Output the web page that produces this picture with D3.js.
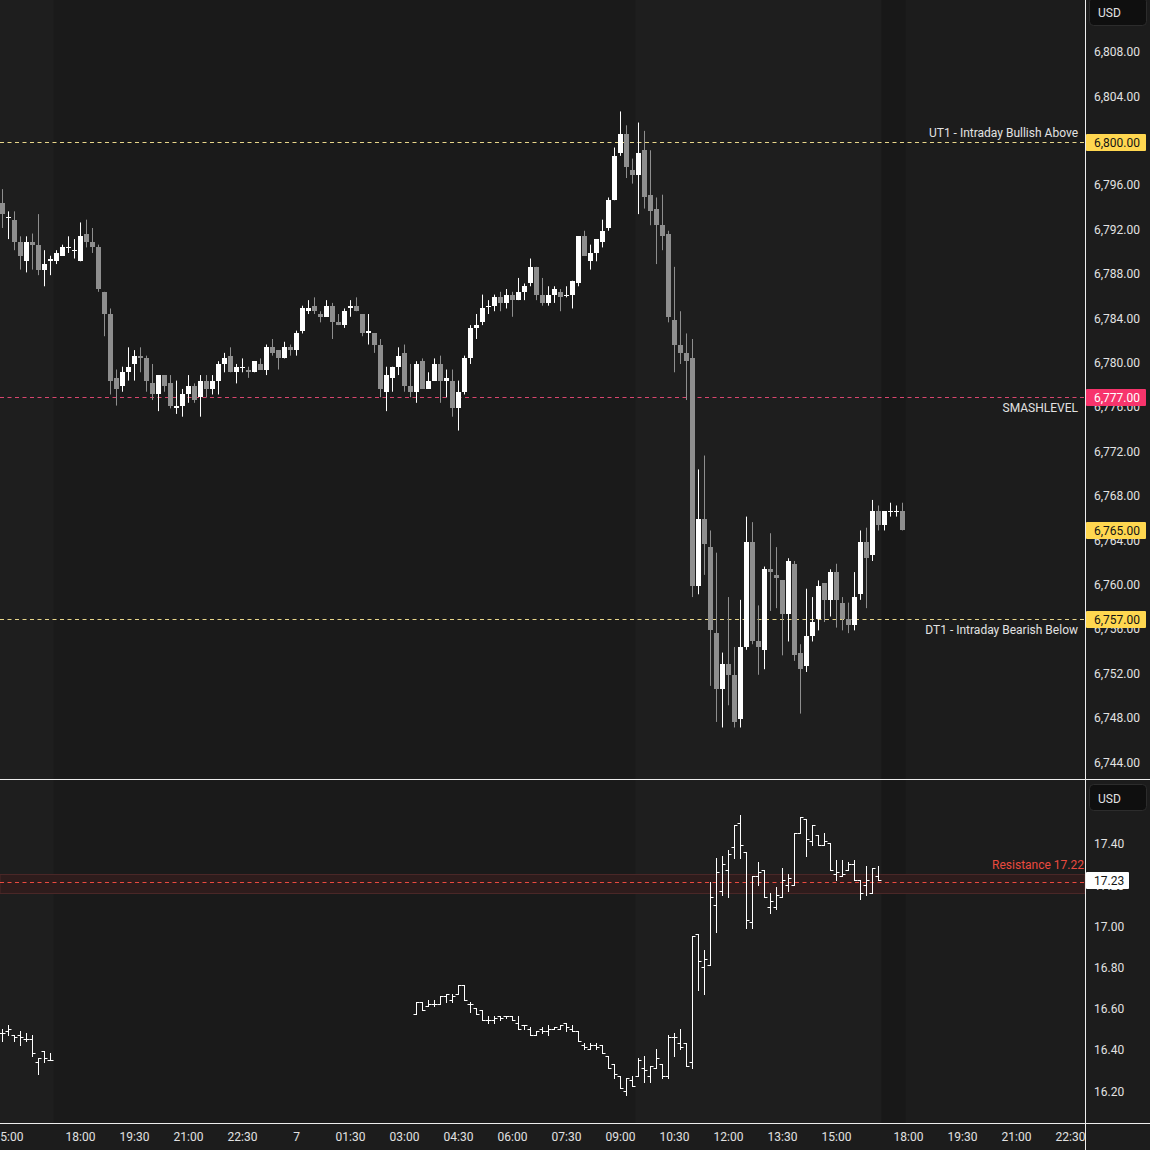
<!DOCTYPE html>
<html>
<head>
<meta charset="utf-8">
<script src="https://cdn.jsdelivr.net/npm/d3@7"></script>
<style>
    html, body { margin: 0; padding: 0; background: #1c1c1c; }
    svg { display: block; font-family: Roboto, "Noto Sans", sans-serif; }
</style>
</head>
<body>
<div id="chart"></div>
<script>
/*---------------------------Data---------------------------*/

// 10 minute bars, [open, high, low, close], first bar = "1 14:50"
const ES_START = "1 14:50";
const ES_BARS = [
    [6794.5, 6795.75, 6792.25, 6793.5], [6793.25, 6793.75, 6791.25, 6793.25], [6793, 6793.75, 6790.25, 6791],
    [6791, 6791.5, 6788.5, 6789.75], [6789.25, 6791.5, 6788.25, 6791], [6791, 6791.75, 6788.5, 6790.75],
    [6790.75, 6793.5, 6788, 6788.5], [6788.5, 6790.25, 6787, 6789], [6789.25, 6789.75, 6788, 6789.5],
    [6789.25, 6790.25, 6789, 6790], [6789.75, 6790.75, 6789.75, 6790.5], [6790.5, 6791.5, 6790, 6790.5],
    [6790.25, 6791.25, 6789.5, 6790.25], [6789.25, 6792.75, 6789.25, 6791.5], [6791.75, 6793, 6790.5, 6791],
    [6791, 6792.25, 6790, 6790.5], [6790.5, 6790.75, 6786.5, 6786.75], [6786.5, 6786.5, 6782.5, 6784.5],
    [6784.5, 6785, 6777.25, 6778.5], [6778.75, 6779.5, 6776.25, 6777.75], [6778, 6779.75, 6777.5, 6779.25],
    [6779.25, 6781.5, 6778.5, 6779.75], [6780, 6781.25, 6778.5, 6780.75], [6780.75, 6781.5, 6779.25, 6780.5],
    [6780.5, 6780.75, 6777.5, 6778.5], [6778.25, 6780, 6776.75, 6777.25], [6777.25, 6779, 6775.75, 6779],
    [6779, 6779, 6777.5, 6778], [6778.25, 6779, 6776, 6776.25], [6776, 6778.5, 6775.5, 6776.25],
    [6776.25, 6777.75, 6775.25, 6777.25], [6777.25, 6779, 6776.5, 6778], [6778, 6778.25, 6776.5, 6776.75],
    [6777, 6779, 6775.25, 6778.5], [6778.5, 6779, 6777, 6777.75], [6777.75, 6779, 6777.25, 6778.5],
    [6778.5, 6780.25, 6777.25, 6780], [6780, 6781, 6779.25, 6780.5], [6780.75, 6781.5, 6779.25, 6779.25],
    [6779.25, 6780, 6778.25, 6779.75], [6779.75, 6780.5, 6779.25, 6779.75], [6779.5, 6779.75, 6778.75, 6779.25],
    [6779.25, 6780.25, 6779.25, 6780.25], [6780, 6780.5, 6779.5, 6779.5], [6779.5, 6781.75, 6779, 6781.5],
    [6781.5, 6782.25, 6780.75, 6781], [6781.25, 6781.25, 6779.5, 6780.5], [6780.5, 6782, 6780.5, 6781.5],
    [6781.5, 6781.75, 6780.75, 6781.25], [6781.25, 6783, 6780.75, 6782.75], [6783, 6785.25, 6782.75, 6785],
    [6784.75, 6785.75, 6784.5, 6785], [6785.25, 6786, 6784.5, 6784.75], [6784.5, 6784.75, 6783.75, 6784.25],
    [6784.25, 6785.75, 6784.25, 6785.25], [6785.25, 6785.5, 6782.25, 6783.75], [6783.75, 6784.5, 6783.5, 6783.5],
    [6783.5, 6785, 6783.25, 6784.75], [6785, 6785.75, 6784.25, 6785.25], [6785.25, 6786, 6784.75, 6784.75],
    [6784.5, 6784.5, 6782.5, 6782.75], [6782.75, 6784.5, 6781.75, 6783], [6782.75, 6782.75, 6781, 6781.75],
    [6781.75, 6782.25, 6777, 6777.75], [6777.5, 6779.75, 6775.75, 6779], [6778.75, 6779.75, 6777.5, 6779.75],
    [6779.75, 6781.5, 6779, 6780.75], [6781, 6781.75, 6777.5, 6778], [6778, 6780, 6777, 6777.5],
    [6777.5, 6780.25, 6776.5, 6780], [6780.25, 6780.5, 6777.75, 6777.75], [6777.75, 6779.25, 6777.75, 6778.5],
    [6778.5, 6780.5, 6778.5, 6780], [6780, 6780.75, 6776.5, 6778.5], [6778.5, 6779.5, 6777, 6778.75],
    [6778.5, 6779.5, 6775.25, 6776], [6776, 6778.5, 6774, 6777.5], [6777.5, 6780.75, 6777.25, 6780.5],
    [6780.5, 6783.5, 6780, 6783.25], [6783.25, 6784.5, 6782.25, 6783.5], [6783.75, 6786.25, 6783.5, 6785],
    [6785.25, 6785.75, 6784.5, 6785.25], [6785.25, 6786.25, 6784.75, 6786], [6786, 6786.5, 6784.75, 6785.5],
    [6785.5, 6786.75, 6785, 6786.25], [6786.25, 6786.5, 6784.25, 6785.75], [6785.75, 6787.75, 6785.75, 6786.5],
    [6786.5, 6787.25, 6785.75, 6787], [6787.25, 6789.5, 6787, 6788.75], [6788.75, 6788.75, 6785.75, 6786.25],
    [6786.25, 6787.75, 6785.25, 6785.5], [6785.5, 6787, 6785.25, 6786.25], [6786.25, 6787, 6785.5, 6786.75],
    [6786.5, 6786.75, 6784.75, 6786], [6786.25, 6787, 6786, 6786.25], [6786.25, 6787.5, 6785, 6787.5],
    [6787.25, 6791.5, 6787, 6791.5], [6791.5, 6792, 6789.75, 6789.75], [6789.25, 6790.75, 6788.5, 6790],
    [6790, 6791.25, 6789.25, 6791.25], [6791, 6793, 6790.5, 6792], [6792.25, 6795, 6792, 6794.75],
    [6794.75, 6799.5, 6794.75, 6798.75], [6799, 6802.75, 6798.75, 6800.75], [6800.75, 6801.5, 6796.75, 6797.75],
    [6797.5, 6798.5, 6796.25, 6797], [6797, 6801.75, 6793.5, 6799], [6799.25, 6801, 6794, 6795],
    [6795.25, 6799.25, 6792.5, 6793.75], [6794, 6795, 6789, 6792.5], [6792.5, 6795.25, 6790.25, 6791.5],
    [6791.75, 6792, 6783.75, 6784.25], [6784, 6788.75, 6779.25, 6781.75], [6781.75, 6784.75, 6780, 6781],
    [6781, 6782.75, 6776.75, 6780.25], [6780.5, 6782.25, 6759, 6760], [6760, 6770.5, 6759.25, 6766],
    [6766, 6771.75, 6761, 6763.75], [6763.5, 6765, 6751, 6756], [6755.75, 6763, 6747.75, 6750.75],
    [6750.75, 6754, 6747.25, 6753], [6753, 6759, 6749.25, 6752], [6752, 6754.5, 6747.25, 6747.75],
    [6748, 6758.75, 6747.25, 6754.5], [6754.5, 6766.25, 6754.25, 6764], [6764, 6765.75, 6754.75, 6755],
    [6755, 6758.25, 6752, 6754.5], [6754.25, 6761.75, 6752.5, 6761.5], [6761.5, 6764.75, 6757.75, 6761.25],
    [6761, 6763.5, 6758, 6760.75], [6760.5, 6760.5, 6753.75, 6757.5], [6757.5, 6762.5, 6755, 6762.25],
    [6762, 6762.25, 6753.25, 6753.75], [6754, 6754.75, 6748.5, 6752.5], [6752.75, 6759.75, 6752.25, 6755.5],
    [6755.5, 6759, 6755, 6756.75], [6757, 6760.5, 6756, 6760], [6760.25, 6760.25, 6756.75, 6758.75],
    [6758.75, 6761.5, 6757.25, 6761.25], [6761.25, 6762, 6756.25, 6758.75], [6758.5, 6759, 6756, 6757],
    [6757, 6758.5, 6755.75, 6756.5], [6756.5, 6761.25, 6756, 6759], [6759.25, 6765, 6758.75, 6764],
    [6764, 6765.25, 6758, 6762.5], [6762.75, 6767.75, 6762.25, 6766.75], [6766.75, 6767.25, 6765, 6765.5],
    [6765.5, 6766.75, 6765, 6766.75], [6766.75, 6767.5, 6766.25, 6766.75], [6766.75, 6767.25, 6766.25, 6766.75],
    [6766.75, 6767.5, 6765, 6765]
];

// lower pane, [open, high, low, close]
const VIX_DAY1_START = "1 14:50";
const VIX_DAY1 = [
    [16.49, 16.51, 16.45, 16.49], [16.50, 16.53, 16.48, 16.51], [16.48, 16.48, 16.45, 16.47],
    [16.48, 16.50, 16.43, 16.47], [16.46, 16.49, 16.45, 16.46], [16.46, 16.48, 16.38, 16.39],
    [16.35, 16.37, 16.29, 16.37], [16.40, 16.40, 16.35, 16.37], [16.36, 16.39, 16.36, 16.36]
];
const VIX_DAY2_START = "2 03:20";
const VIX_DAY2 = [
    [16.58, 16.64, 16.58, 16.64], [16.64, 16.64, 16.60, 16.60], [16.62, 16.65, 16.62, 16.63],
    [16.63, 16.65, 16.62, 16.63], [16.63, 16.67, 16.63, 16.67], [16.67, 16.68, 16.64, 16.68],
    [16.65, 16.68, 16.64, 16.67], [16.68, 16.72, 16.68, 16.72], [16.72, 16.72, 16.65, 16.65],
    [16.63, 16.64, 16.59, 16.63], [16.61, 16.61, 16.58, 16.58], [16.60, 16.60, 16.55, 16.55],
    [16.55, 16.57, 16.54, 16.55], [16.55, 16.57, 16.54, 16.56], [16.57, 16.57, 16.55, 16.56],
    [16.57, 16.57, 16.56, 16.57], [16.57, 16.57, 16.55, 16.55], [16.54, 16.57, 16.51, 16.51],
    [16.53, 16.53, 16.51, 16.53], [16.51, 16.52, 16.48, 16.48], [16.48, 16.50, 16.48, 16.50],
    [16.51, 16.52, 16.49, 16.50], [16.50, 16.53, 16.48, 16.51], [16.51, 16.52, 16.51, 16.52],
    [16.51, 16.53, 16.51, 16.53], [16.54, 16.54, 16.50, 16.52], [16.51, 16.53, 16.50, 16.50],
    [16.50, 16.50, 16.45, 16.45], [16.43, 16.44, 16.41, 16.42], [16.41, 16.44, 16.41, 16.43],
    [16.43, 16.44, 16.41, 16.42], [16.43, 16.43, 16.39, 16.39], [16.38, 16.38, 16.32, 16.32],
    [16.34, 16.34, 16.27, 16.29], [16.28, 16.28, 16.22, 16.22], [16.21, 16.27, 16.19, 16.27],
    [16.26, 16.28, 16.23, 16.23], [16.28, 16.37, 16.28, 16.36], [16.32, 16.38, 16.25, 16.31],
    [16.28, 16.33, 16.25, 16.33], [16.32, 16.41, 16.32, 16.37], [16.34, 16.34, 16.27, 16.28],
    [16.28, 16.48, 16.27, 16.47], [16.47, 16.49, 16.38, 16.47], [16.44, 16.51, 16.41, 16.42],
    [16.44, 16.44, 16.33, 16.33], [16.35, 16.96, 16.32, 16.96], [16.97, 16.97, 16.70, 16.84],
    [16.81, 16.89, 16.68, 16.85], [16.82, 17.22, 16.82, 17.15], [17.11, 17.34, 16.98, 17.27],
    [17.18, 17.35, 17.16, 17.31], [17.28, 17.38, 17.15, 17.36], [17.39, 17.50, 17.34, 17.50],
    [17.51, 17.55, 17.34, 17.40], [17.37, 17.37, 17.00, 17.04], [17.03, 17.25, 17.00, 17.25],
    [17.25, 17.32, 17.21, 17.27], [17.28, 17.28, 17.15, 17.15], [17.10, 17.17, 17.07, 17.13],
    [17.10, 17.20, 17.09, 17.16], [17.15, 17.29, 17.15, 17.23], [17.21, 17.26, 17.18, 17.24],
    [17.21, 17.46, 17.21, 17.46], [17.46, 17.54, 17.46, 17.54], [17.53, 17.53, 17.35, 17.43],
    [17.42, 17.50, 17.40, 17.50], [17.45, 17.45, 17.40, 17.40], [17.40, 17.46, 17.40, 17.42],
    [17.41, 17.41, 17.28, 17.28], [17.26, 17.33, 17.23, 17.27], [17.25, 17.33, 17.25, 17.26],
    [17.28, 17.32, 17.28, 17.31], [17.31, 17.33, 17.23, 17.23], [17.23, 17.23, 17.14, 17.17],
    [17.21, 17.30, 17.16, 17.23], [17.17, 17.29, 17.17, 17.29], [17.25, 17.30, 17.23, 17.23]
];

const PRICE_TICKS = [6744, 6748, 6752, 6756, 6760, 6764, 6768, 6772, 6776, 6780, 6784, 6788, 6792, 6796, 6800, 6804, 6808];
const VIX_TICKS = [16.2, 16.4, 16.6, 16.8, 17.0, 17.2, 17.4];

const LEVEL_NAMES = ["UT1 - Intraday Bullish Above", "SMASHLEVEL", "DT1 - Intraday Bearish Below"];
const LEVEL_VALUES = [6800, 6777, 6757];
const RESISTANCE_NAME = "Resistance 17.22";
const RESISTANCE = 17.22;
const RESISTANCE_ZONE = [17.17, 17.26];

const TIME_TICKS = [
    ["1 15:00", "15:00"], ["1 18:00", "18:00"], ["1 19:30", "19:30"], ["1 21:00", "21:00"], ["1 22:30", "22:30"],
    ["2 00:00", "7"], ["2 01:30", "01:30"], ["2 03:00", "03:00"], ["2 04:30", "04:30"], ["2 06:00", "06:00"],
    ["2 07:30", "07:30"], ["2 09:00", "09:00"], ["2 10:30", "10:30"], ["2 12:00", "12:00"], ["2 13:30", "13:30"],
    ["2 15:00", "15:00"], ["2 18:00", "18:00"], ["2 19:30", "19:30"], ["2 21:00", "21:00"], ["2 22:30", "22:30"]
];

// sessions, first and last bar of each
const SESSIONS = [
    ["1 09:30", "1 16:10", "rth"],
    ["2 09:30", "2 16:10", "rth"],
    ["2 16:20", "2 16:50", "post"]
];

/*---------------------------Init---------------------------*/

const WIDTH = 1150;
const HEIGHT = 1150;
const PLOT_RIGHT = 1085;
const MAIN_BOTTOM = 779;
const SUB_TOP = 780;
const SUB_BOTTOM = 1123;
const COLOR = {
    bg: "#1c1c1c",
    overnight: "#1a1a1a",
    rth: "#1e1e1e",
    post: "#181818",
    up: "#ffffff",
    down: "#8e8e8e",
    text: "#e2e2e2",
    frame: "#ededed",
    yellowLine: "#e8d68a",
    yellowTag: "#ffd750",
    redLine: "#d8466e",
    redTag: "#f7346c",
    resist: "#ea4a3f",
    zone: "#2e1c1c",
    zoneEdge: "#4a2727"
};
const LEVEL_COLORS = [
    { line: COLOR.yellowLine, tag: COLOR.yellowTag, tagText: "#141414", dy: -10 },
    { line: COLOR.redLine, tag: COLOR.redTag, tagText: "#ffffff", dy: 10 },
    { line: COLOR.yellowLine, tag: COLOR.yellowTag, tagText: "#141414", dy: 10 }
];

// bar number counted from the first bar, the 17:00-18:00 breaks are skipped
const barIndex = (t) => {
    const [day, hm] = t.split(" ");
    const [h, m] = hm.split(":").map(Number);
    const abs = (+day - 1) * 1440 + h * 60 + m;
    let mins = abs;
    if (abs >= 1080) mins -= 60;
    if (abs >= 2520) mins -= 60;
    return (mins - 890) / 10;
};

const fmtPrice = d3.format(",.2f");
const fmtVix = d3.format(".2f");

const xScale = d3.scaleLinear().domain([0, 150]).range([2.5, 902.5]);
const yMain = d3.scaleLinear().domain([6742.61, 6812.79]).range([MAIN_BOTTOM, 0]);
const ySub = d3.scaleLinear().domain([16.0524, 17.7175]).range([SUB_BOTTOM, SUB_TOP]);

const svg = d3.select("#chart").append("svg")
    .attr("width", WIDTH)
    .attr("height", HEIGHT)
    .style("background-color", COLOR.bg);

const defs = svg.append("defs");
defs.append("clipPath").attr("id", "clip-main")
    .append("rect").attr("x", 0).attr("y", 0).attr("width", PLOT_RIGHT).attr("height", MAIN_BOTTOM);
defs.append("clipPath").attr("id", "clip-sub")
    .append("rect").attr("x", 0).attr("y", SUB_TOP).attr("width", PLOT_RIGHT).attr("height", SUB_BOTTOM - SUB_TOP);
defs.append("clipPath").attr("id", "clip-time")
    .append("rect").attr("x", 0).attr("y", SUB_BOTTOM).attr("width", PLOT_RIGHT).attr("height", HEIGHT - SUB_BOTTOM);

/*---------------------------Backgrounds---------------------------*/

const panes = [[0, MAIN_BOTTOM], [SUB_TOP, SUB_BOTTOM]];
const lastEdge = xScale(ES_BARS.length - 0.5);

panes.forEach(([top, bottom]) => {
    svg.append("rect")
        .attr("x", 0).attr("y", top)
        .attr("width", lastEdge).attr("height", bottom - top)
        .attr("fill", COLOR.overnight);
    SESSIONS.forEach(([from, to, kind]) => {
        const x0 = Math.max(0, xScale(barIndex(from) - 0.5));
        const x1 = xScale(barIndex(to) + 0.5);
        svg.append("rect")
            .attr("x", x0).attr("y", top)
            .attr("width", x1 - x0).attr("height", bottom - top)
            .attr("fill", COLOR[kind]);
    });
});

/*---------------------------Main pane---------------------------*/

const main = svg.append("g").attr("clip-path", "url(#clip-main)");
const esStart = barIndex(ES_START);

// level lines
LEVEL_VALUES.forEach((v, i) => {
    const y = Math.round(yMain(v)) + 0.5;
    main.append("line")
        .attr("x1", 0).attr("x2", PLOT_RIGHT)
        .attr("y1", y).attr("y2", y)
        .attr("stroke", LEVEL_COLORS[i].line)
        .attr("stroke-width", 1)
        .attr("stroke-dasharray", "4,3.5");
    main.append("text")
        .attr("x", PLOT_RIGHT - 7)
        .attr("y", y + LEVEL_COLORS[i].dy)
        .attr("text-anchor", "end")
        .attr("dominant-baseline", "central")
        .attr("font-size", 12)
        .attr("fill", COLOR.text)
        .text(LEVEL_NAMES[i]);
});

const candles = main.selectAll(".candle")
    .data(ES_BARS)
    .enter()
    .append("g")
    .attr("class", "candle");

candles.append("line")
    .attr("x1", (d, i) => xScale(esStart + i))
    .attr("x2", (d, i) => xScale(esStart + i))
    .attr("y1", d => yMain(d[1]))
    .attr("y2", d => yMain(d[2]))
    .attr("stroke", d => d[3] >= d[0] ? COLOR.up : COLOR.down)
    .attr("stroke-width", 1);

candles.append("rect")
    .attr("x", (d, i) => xScale(esStart + i) - 2.5)
    .attr("y", d => Math.round(yMain(Math.max(d[0], d[3]))))
    .attr("width", 5)
    .attr("height", d => Math.max(1, Math.round(yMain(Math.min(d[0], d[3]))) - Math.round(yMain(Math.max(d[0], d[3])))))
    .attr("fill", d => d[3] >= d[0] ? COLOR.up : COLOR.down);

/*---------------------------Lower pane---------------------------*/

const sub = svg.append("g").attr("clip-path", "url(#clip-sub)");

// resistance zone
sub.append("rect")
    .attr("x", 0)
    .attr("y", Math.round(ySub(RESISTANCE_ZONE[1])) + 0.5)
    .attr("width", PLOT_RIGHT)
    .attr("height", Math.round(ySub(RESISTANCE_ZONE[0])) - Math.round(ySub(RESISTANCE_ZONE[1])))
    .attr("fill", COLOR.zone)
    .attr("stroke", COLOR.zoneEdge)
    .attr("stroke-width", 1);

const ry = Math.round(ySub(RESISTANCE)) + 0.5;
sub.append("line")
    .attr("x1", 0).attr("x2", PLOT_RIGHT)
    .attr("y1", ry).attr("y2", ry)
    .attr("stroke", COLOR.resist)
    .attr("stroke-width", 1)
    .attr("stroke-dasharray", "4,3.5");

svg.append("text")
    .attr("x", PLOT_RIGHT - 1)
    .attr("y", ry - 18)
    .attr("text-anchor", "end")
    .attr("dominant-baseline", "central")
    .attr("font-size", 12)
    .attr("fill", COLOR.resist)
    .text(RESISTANCE_NAME);

const drawOhlc = (bars, start) => {
    const s = barIndex(start);
    const g = sub.append("g");
    const bar = g.selectAll(".ohlc")
        .data(bars)
        .enter()
        .append("g")
        .attr("class", "ohlc");
    bar.append("line")
        .attr("x1", (d, i) => xScale(s + i)).attr("x2", (d, i) => xScale(s + i))
        .attr("y1", d => Math.round(ySub(d[1])))
        .attr("y2", d => Math.round(ySub(d[2])) + 1)
        .attr("stroke", COLOR.up);
    bar.append("line")
        .attr("x1", (d, i) => xScale(s + i) - 3).attr("x2", (d, i) => xScale(s + i))
        .attr("y1", d => Math.round(ySub(d[0])) + 0.5)
        .attr("y2", d => Math.round(ySub(d[0])) + 0.5)
        .attr("stroke", COLOR.up);
    bar.append("line")
        .attr("x1", (d, i) => xScale(s + i)).attr("x2", (d, i) => xScale(s + i) + 3)
        .attr("y1", d => Math.round(ySub(d[3])) + 0.5)
        .attr("y2", d => Math.round(ySub(d[3])) + 0.5)
        .attr("stroke", COLOR.up);
};

drawOhlc(VIX_DAY1, VIX_DAY1_START);
drawOhlc(VIX_DAY2, VIX_DAY2_START);

/*---------------------------Frame---------------------------*/

svg.append("line")
    .attr("x1", 0).attr("x2", WIDTH).attr("y1", MAIN_BOTTOM + 0.5).attr("y2", MAIN_BOTTOM + 0.5)
    .attr("stroke", COLOR.frame);
svg.append("line")
    .attr("x1", 0).attr("x2", WIDTH).attr("y1", SUB_BOTTOM + 0.5).attr("y2", SUB_BOTTOM + 0.5)
    .attr("stroke", COLOR.frame);
svg.append("line")
    .attr("x1", PLOT_RIGHT + 0.5).attr("x2", PLOT_RIGHT + 0.5).attr("y1", 0).attr("y2", HEIGHT)
    .attr("stroke", COLOR.frame);

/*---------------------------Price axes---------------------------*/

const axisX = PLOT_RIGHT + 9;

svg.append("g").selectAll("text")
    .data(PRICE_TICKS)
    .enter()
    .append("text")
    .attr("x", axisX)
    .attr("y", d => yMain(d) - 1)
    .attr("dominant-baseline", "central")
    .attr("font-size", 12)
    .attr("fill", COLOR.text)
    .text(d => fmtPrice(d));

svg.append("g").selectAll("text")
    .data(VIX_TICKS)
    .enter()
    .append("text")
    .attr("x", axisX)
    .attr("y", d => ySub(d) - 1)
    .attr("dominant-baseline", "central")
    .attr("font-size", 12)
    .attr("fill", COLOR.text)
    .text(d => fmtVix(d));

// currency boxes
[[-3, 28], [784, 26]].forEach(([y, h]) => {
    svg.append("rect")
        .attr("x", PLOT_RIGHT + 4.5).attr("y", y + 0.5)
        .attr("width", 57).attr("height", h)
        .attr("rx", 4)
        .attr("fill", "#0f0f0f")
        .attr("stroke", "#2c2c2c");
    svg.append("text")
        .attr("x", PLOT_RIGHT + 13)
        .attr("y", y + h / 2 + 2)
        .attr("dominant-baseline", "central")
        .attr("font-size", 12)
        .attr("fill", COLOR.text)
        .text("USD");
});

// price tags
const tag = (y, label, fill, textFill, w) => {
    svg.append("rect")
        .attr("x", PLOT_RIGHT + 1)
        .attr("y", Math.round(y) - 8)
        .attr("width", w)
        .attr("height", 17)
        .attr("rx", 1)
        .attr("fill", fill);
    svg.append("text")
        .attr("x", axisX)
        .attr("y", Math.round(y) + 0.5)
        .attr("dominant-baseline", "central")
        .attr("font-size", 12)
        .attr("fill", textFill)
        .text(label);
};

const lastClose = ES_BARS[ES_BARS.length - 1][3];
LEVEL_VALUES.forEach((v, i) => tag(yMain(v), fmtPrice(v), LEVEL_COLORS[i].tag, LEVEL_COLORS[i].tagText, 60));
tag(yMain(lastClose), fmtPrice(lastClose), COLOR.yellowTag, "#141414", 60);

const lastVix = VIX_DAY2[VIX_DAY2.length - 1][3];
tag(ySub(lastVix), fmtVix(lastVix), "#ffffff", "#141414", 43);

/*---------------------------Time axis---------------------------*/

svg.append("g")
    .attr("clip-path", "url(#clip-time)")
    .selectAll("text")
    .data(TIME_TICKS)
    .enter()
    .append("text")
    .attr("x", d => xScale(barIndex(d[0])))
    .attr("y", 1137)
    .attr("text-anchor", "middle")
    .attr("dominant-baseline", "central")
    .attr("font-size", 12)
    .attr("fill", COLOR.text)
    .text(d => d[1]);
</script>
</body>
</html>
